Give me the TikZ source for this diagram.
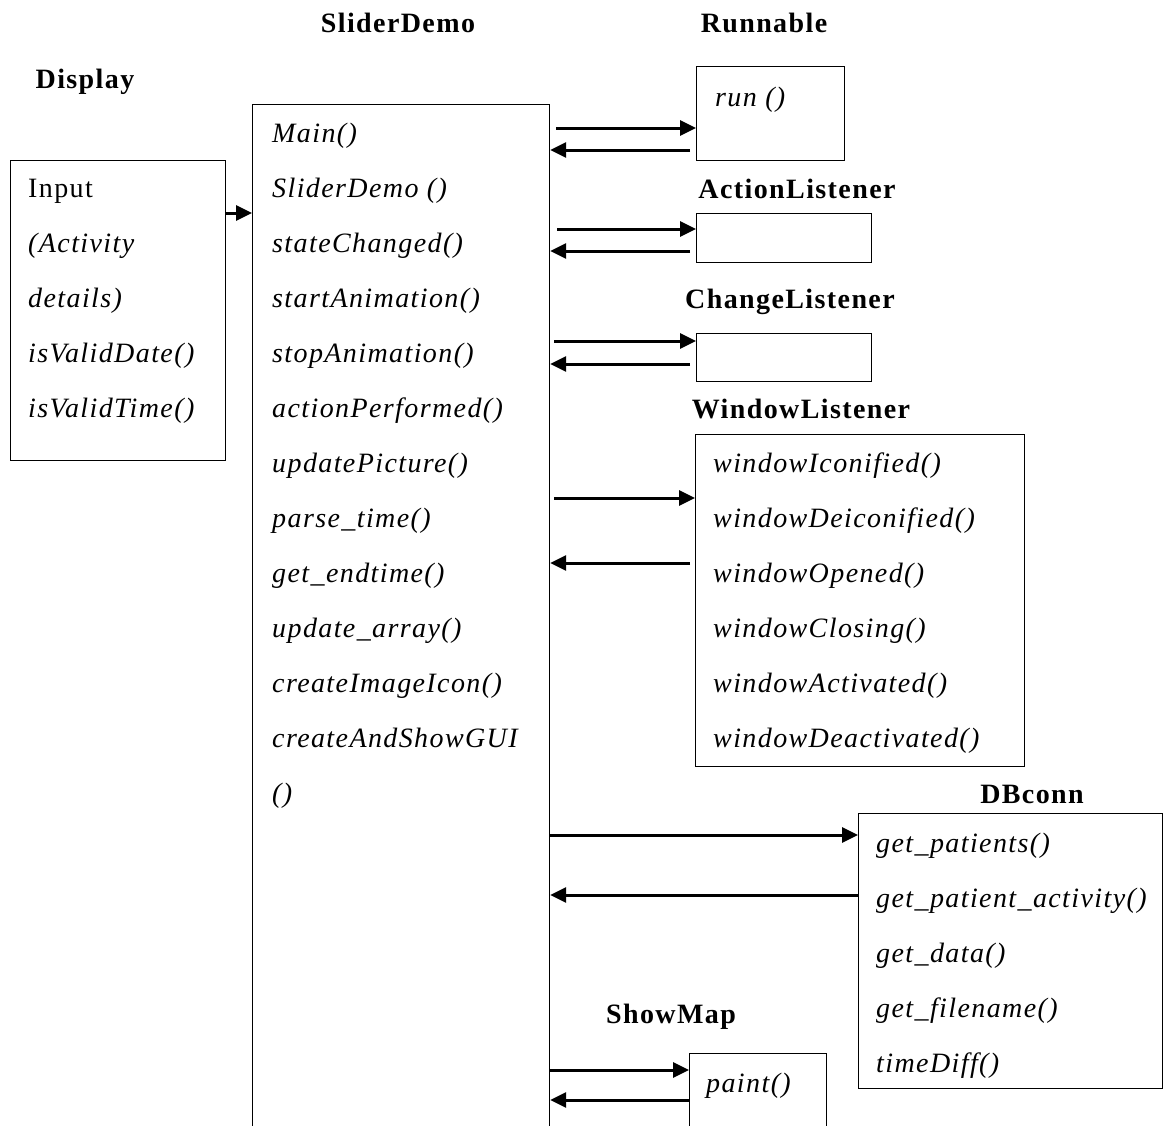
\documentclass[tikz,border=0pt]{standalone}
\usepackage{fontspec}
\setmainfont{Liberation Serif}[LetterSpace=5]
\usetikzlibrary{arrows.meta}
\tikzset{
  box/.style={draw, line width=1.2pt, inner sep=0pt, anchor=north west},
  title/.style={font=\bfseries\fontsize{28}{30}\selectfont, anchor=base},
  items/.style={font=\itshape\fontsize{28}{55}\selectfont, anchor=base west, inner sep=0pt},
  arr/.style={line width=3pt, -{Triangle[length=16pt,width=15pt]}},
}
\newcommand\methods[1]{\begin{tabular}[t]{@{}l@{}}#1\end{tabular}}
\begin{document}
\begin{tikzpicture}[x=1pt,y=-1pt]
\useasboundingbox (0,0) rectangle (1164,1125);
\clip (0,0) rectangle (1164,1125);
% titles
\node[title] (disptitle) at (85,88) {Display};
\node[title] (slidertitle) at (398,32) {SliderDemo};
\node[title] (runtitle) at (764,32) {Runnable};
\node[title] (acttitle) at (797,198) {ActionListener};
\node[title] (chgtitle) at (790,308) {ChangeListener};
\node[title] (wintitle) at (801,418) {WindowListener};
\node[title] (dbtitle) at (1032,803) {DBconn};
\node[title] (maptitle) at (671,1023) {ShowMap};
% boxes
\node[box, minimum width=215pt, minimum height=300pt] (input) at (10,160) {};
\node[box, minimum width=297pt, minimum height=1100pt] (slider) at (252,104) {};
\node[box, minimum width=148pt, minimum height=94pt] (run) at (696,66) {};
\node[box, minimum width=175pt, minimum height=49pt] (act) at (696,213) {};
\node[box, minimum width=175pt, minimum height=48pt] (chg) at (696,333) {};
\node[box, minimum width=329pt, minimum height=332pt] (win) at (695,434) {};
\node[box, minimum width=304pt, minimum height=275pt] (db) at (858,813) {};
\node[box, minimum width=137pt, minimum height=200pt] (map) at (689,1053) {};
% methods
\node[items] (inputtxt) at (28,197) {\methods{{\upshape Input}\\(Activity\\details)\\isValidDate()\\isValidTime()}};
\node[items] (slidertxt) at (272,142) {\methods{Main()\\SliderDemo ()\\stateChanged()\\startAnimation()\\stopAnimation()\\actionPerformed()\\updatePicture()\\parse\_time()\\get\_endtime()\\update\_array()\\createImageIcon()\\createAndShowGUI\\()}};
\node[items] (runtxt) at (715,106) {run ()};
\node[items] (wintxt) at (713,472) {\methods{windowIconified()\\windowDeiconified()\\windowOpened()\\windowClosing()\\windowActivated()\\windowDeactivated()}};
\node[items] (dbtxt) at (876,852) {\methods{get\_patients()\\get\_patient\_activity()\\get\_data()\\get\_filename()\\timeDiff()}};
\node[items] (maptxt) at (706,1092) {paint()};
% calls
\draw[arr] (input.east |- 0,213) -- (slider.west |- 0,213);
\draw[arr, shorten <=6pt] (slider.east |- 0,128) -- (run.west |- 0,128);
\draw[arr, shorten <=6pt] (run.west |- 0,150) -- (slider.east |- 0,150);
\draw[arr, shorten <=7pt] (slider.east |- 0,229) -- (act.west |- 0,229);
\draw[arr, shorten <=6pt] (act.west |- 0,251) -- (slider.east |- 0,251);
\draw[arr, shorten <=4pt] (slider.east |- 0,341) -- (chg.west |- 0,341);
\draw[arr, shorten <=6pt] (chg.west |- 0,364) -- (slider.east |- 0,364);
\draw[arr, shorten <=4pt] (slider.east |- 0,498) -- (win.west |- 0,498);
\draw[arr, shorten <=5pt] (win.west |- 0,563) -- (slider.east |- 0,563);
\draw[arr] (slider.east |- 0,835) -- (db.west |- 0,835);
\draw[arr] (db.west |- 0,895) -- (slider.east |- 0,895);
\draw[arr] (slider.east |- 0,1070) -- (map.west |- 0,1070);
\draw[arr] (map.west |- 0,1100) -- (slider.east |- 0,1100);
\end{tikzpicture}
\end{document}
